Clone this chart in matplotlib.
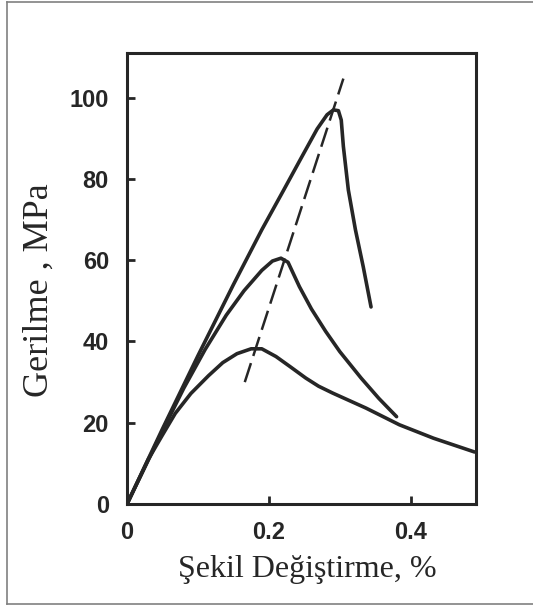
import matplotlib
matplotlib.use("Agg")
import matplotlib.pyplot as plt
from matplotlib.lines import Line2D

# egri verileri
strain_a = [0, 0.05, 0.10, 0.15, 0.19, 0.22, 0.245, 0.268, 0.282, 0.291,
            0.298, 0.302, 0.305, 0.312, 0.322, 0.333, 0.344]
stress_a = [0, 18.5, 36.5, 54, 67.5, 77, 85, 92.3, 95.8, 97,
            96.8, 94.5, 88, 77.3, 67.5, 58.4, 48.5]

strain_b = [0, 0.05, 0.08, 0.11, 0.14, 0.165, 0.19, 0.205, 0.217, 0.227,
            0.243, 0.26, 0.28, 0.30, 0.33, 0.355, 0.38]
stress_b = [0, 18, 28.5, 38, 46.5, 52.5, 57.5, 59.8, 60.5, 59.5,
            53.5, 48, 42.5, 37.5, 31, 26, 21.5]

strain_c = [0, 0.03, 0.05, 0.068, 0.09, 0.115, 0.135, 0.155, 0.175, 0.19,
            0.21, 0.23, 0.252, 0.27, 0.29, 0.337, 0.384, 0.432, 0.49]
stress_c = [0, 11, 17, 22.3, 27.2, 31.6, 34.8, 37, 38.2, 38.2,
            36.3, 33.8, 31.0, 29, 27.3, 23.6, 19.5, 16.2, 12.8]

peak_strain = [0.166, 0.305]
peak_stress = [30, 104.7]

yticks = [0, 20, 40, 60, 80, 100]
xticks = [0, 0.2, 0.4]
xticklabels = ["0", "0.2", "0.4"]

ink = "#262626"
tick_font = ["Liberation Sans", "DejaVu Sans"]
label_font = ["Liberation Serif", "DejaVu Serif"]

fig = plt.figure(figsize=(5.33, 6.05), dpi=100)
ax = fig.add_axes([0.2383, 0.1669, 0.6548, 0.7455])

for xs, ys in [(strain_a, stress_a), (strain_b, stress_b), (strain_c, stress_c)]:
    ax.plot(xs, ys, color=ink, lw=2.6, solid_joinstyle="round",
            solid_capstyle="round")
ax.plot(peak_strain, peak_stress, color=ink, lw=1.8, dashes=(8, 3))

ax.set_xlim(0, 0.492)
ax.set_ylim(0, 111)
for s in ax.spines.values():
    s.set_linewidth(2.2)
    s.set_color(ink)

ax.set_yticks(yticks)
ax.set_yticklabels([str(v) for v in yticks], family=tick_font,
                   fontweight="bold", fontsize=17)
ax.set_xticks(xticks)
ax.set_xticklabels(xticklabels, family=tick_font, fontweight="bold",
                   fontsize=17)
ax.tick_params(axis="both", direction="in", length=6, width=2, color=ink,
               labelcolor=ink)
ax.tick_params(axis="y", pad=13)
ax.tick_params(axis="x", pad=12)

ax.set_xlabel("Şekil Değiştirme, %", family=label_font, fontsize=23,
              color=ink)
ax.xaxis.set_label_coords(0.516, -0.112)
ax.set_ylabel("Gerilme , MPa", family=label_font, fontsize=26, color=ink)
ax.yaxis.set_label_coords(-0.205, 0.474)

# cerceve (sag kenar yok)
W, H = 533, 605
frame = dict(color="#808080", lw=1.2, transform=fig.transFigure)
fig.add_artist(Line2D([7 / W, 7 / W], [1 - 2 / H, 1 - 604 / H], **frame))
fig.add_artist(Line2D([7 / W, 1], [1 - 2 / H, 1 - 2 / H], **frame))
fig.add_artist(Line2D([7 / W, 1], [1 - 604 / H, 1 - 604 / H], **frame))

fig.savefig("out.png", dpi=100)
